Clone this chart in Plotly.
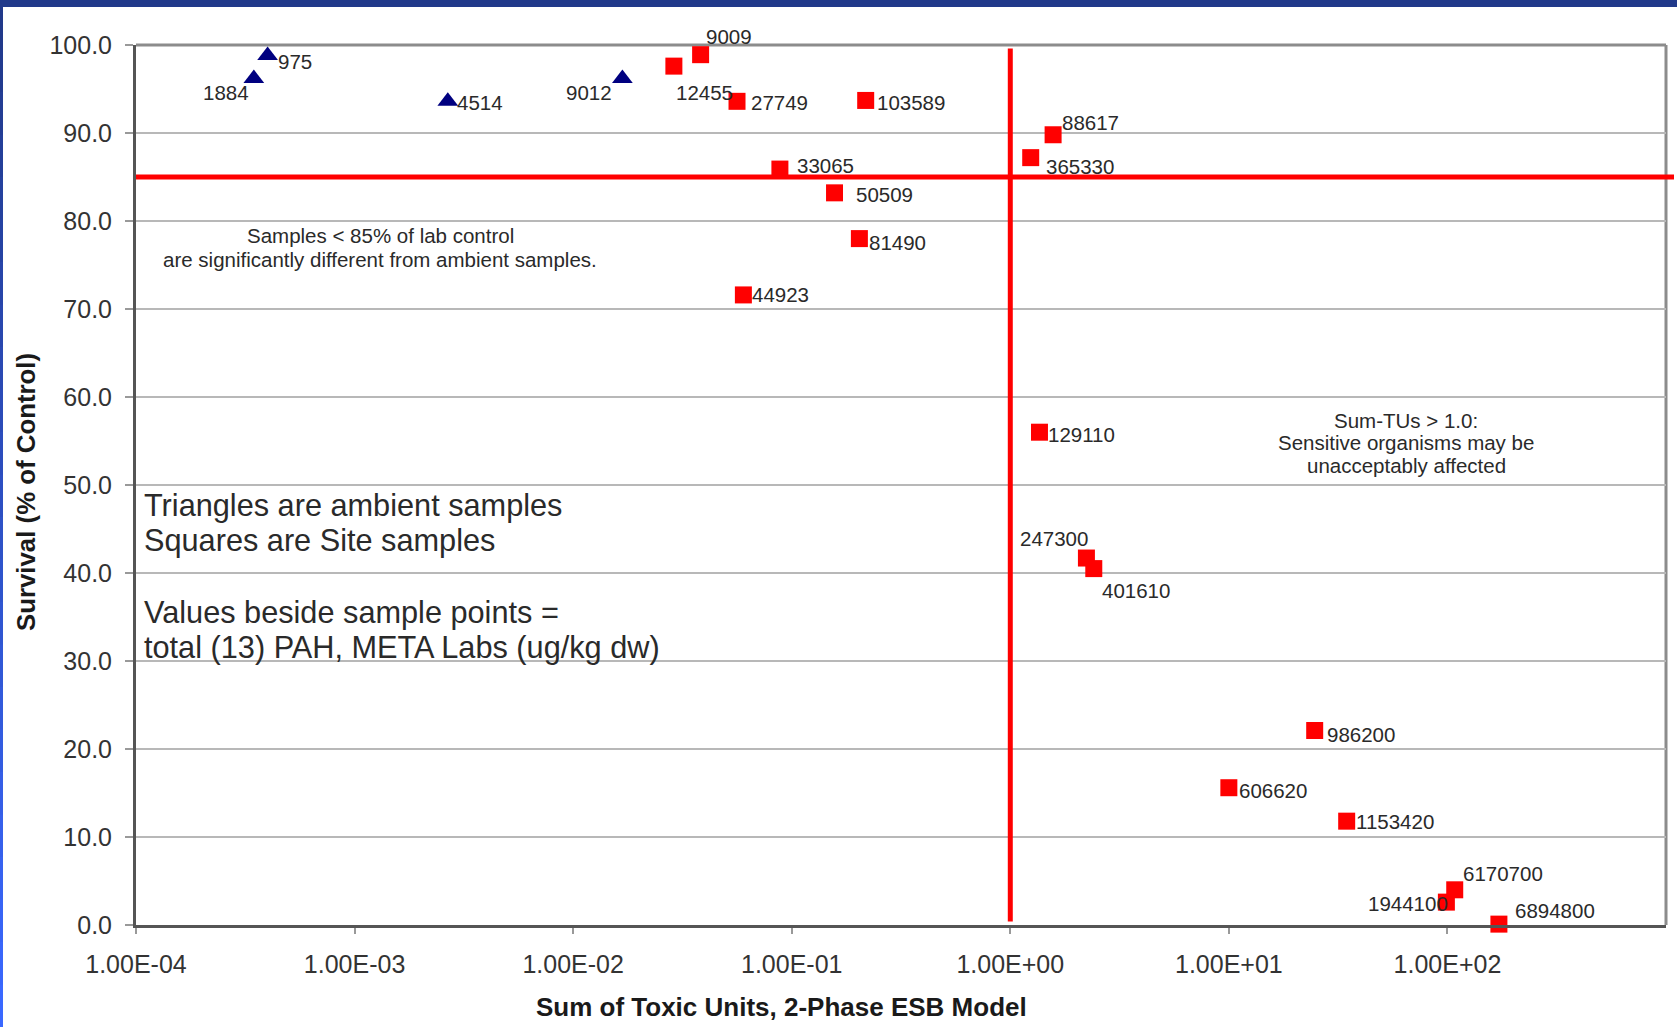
import math
import plotly.graph_objects as go

# Ambient samples (triangles): sum of toxic units, survival (% of control), total PAH label
ambient_tu = [4.0e-4, 3.46e-4, 2.67e-3, 1.68e-2]
ambient_surv = [98.8, 96.2, 93.6, 96.2]
ambient_pah = ["975", "1884", "4514", "9012"]

# Site samples (squares)
site_tu = [0.0289, 0.0383, 0.0562, 0.218, 0.0883, 0.157, 0.204, 0.0601,
           1.57, 1.24, 1.36, 2.23, 2.41, 24.7, 10.0, 34.6, 108.0, 98.9, 172.0]
site_surv = [97.6, 98.9, 93.6, 93.7, 85.9, 83.2, 78.0, 71.6,
             89.8, 87.2, 56.0, 41.7, 40.5, 22.1, 15.6, 11.8, 4.0, 2.6, 0.1]
site_pah = ["12455", "9009", "27749", "103589", "33065", "50509", "81490", "44923",
            "88617", "365330", "129110", "247300", "401610", "986200", "606620",
            "1153420", "6170700", "1944100", "6894800"]

# Thresholds
survival_threshold = 85.0
tu_threshold = 1.0

# Axis ticks
x_tickvals = [1e-4, 1e-3, 1e-2, 1e-1, 1e0, 1e1, 1e2]
x_ticktext = ["1.00E-04", "1.00E-03", "1.00E-02", "1.00E-01", "1.00E+00", "1.00E+01", "1.00E+02"]
y_tickvals = [0, 10, 20, 30, 40, 50, 60, 70, 80, 90, 100]

# Label placement per point: (anchor side, x offset px, y offset px downward)
ambient_label_pos = [("left", 8, 6), ("right", -3, 14), ("left", 7, 1), ("right", -8, 14)]
site_label_pos = [("left", 0, 26), ("left", 3, -18), ("left", 12, 1), ("left", 9, 2),
                  ("left", 15, -4), ("left", 19, 2), ("left", 8, 4), ("left", 7, 0),
                  ("left", 7, -12), ("left", 13, 9), ("left", 7, 2), ("right", 4, -20),
                  ("left", 6, 22), ("left", 10, 4), ("left", 8, 3), ("left", 7, 0),
                  ("left", 6, -16), ("right", 4, 1), ("left", 14, -14)]

FONT = "Liberation Sans, Arial, sans-serif"
TEXT = "#2a2a2a"
W, H = 1677, 1027
L, R, T, B = 136, 11, 45, 102
PW, PH = W - L - R, H - T - B


def px_to_paper_x(px):
    return (px - L) / PW


def px_to_paper_y(py):
    return (H - B - py) / PH


fig = go.Figure()

fig.add_trace(go.Scatter(
    x=site_tu, y=site_surv, mode="markers", cliponaxis=False,
    marker=dict(symbol="square", size=17, color="#ff0000", line=dict(width=0)),
    name="Site samples", showlegend=False,
))
fig.add_trace(go.Scatter(
    x=ambient_tu, y=ambient_surv, mode="markers", cliponaxis=False,
    marker=dict(symbol="triangle-up", size=18, color="#000080", line=dict(width=0)),
    name="Ambient samples", showlegend=False,
))

annotations = []
for xs, ys, labels, pos in [(ambient_tu, ambient_surv, ambient_pah, ambient_label_pos),
                            (site_tu, site_surv, site_pah, site_label_pos)]:
    for xv, yv, lab, (side, dx, dy) in zip(xs, ys, labels, pos):
        # annotations on a log axis take the log10 of the data value
        annotations.append(dict(
            x=math.log10(xv), y=yv, xref="x", yref="y", text=lab, showarrow=False,
            xanchor=side, yanchor="middle", xshift=dx, yshift=-dy,
            font=dict(family=FONT, size=20.5, color=TEXT),
        ))


def note(text, px, py, size, anchor="center", bold=False, angle=0):
    annotations.append(dict(
        x=px_to_paper_x(px), y=px_to_paper_y(py), xref="paper", yref="paper",
        text=f"<b>{text}</b>" if bold else text, showarrow=False,
        xanchor=anchor, yanchor="middle", textangle=angle,
        font=dict(family=FONT, size=size, color=TEXT if not bold else "#1a1a1a"),
    ))


note("Samples &lt; 85% of lab control", 380, 235, 20.5)
note("are significantly different from ambient samples.", 380, 260, 20.5)
note("Triangles are ambient samples", 142, 505, 30.7, anchor="left")
note("Squares are Site samples", 142, 540, 30.7, anchor="left")
note("Values beside sample points =", 142, 612, 30.7, anchor="left")
note("total (13) PAH, META Labs (ug/kg dw)", 142, 647, 30.7, anchor="left")
note("Sum-TUs &gt; 1.0:", 1406, 420, 20.5)
note("Sensitive organisms may be", 1406, 442, 20.5)
note("unacceptably affected", 1406, 465, 20.5)
note("Sum of Toxic Units, 2-Phase ESB Model", 781, 1007, 26, bold=True)
note("Survival (% of Control)", 26, 492, 25.8, bold=True, angle=-90)

shapes = [
    # threshold lines
    dict(type="line", xref="paper", yref="y", x0=0, x1=px_to_paper_x(1674),
         y0=survival_threshold, y1=survival_threshold,
         line=dict(color="#ff0000", width=5), layer="above"),
    dict(type="line", xref="x", yref="y", x0=tu_threshold, x1=tu_threshold,
         y0=0.4, y1=99.6, line=dict(color="#ff0000", width=5), layer="above"),
    # top and right frame
    dict(type="line", xref="paper", yref="paper", x0=0, x1=1, y0=1, y1=1,
         line=dict(color="#8c8c8c", width=3), layer="below"),
    dict(type="line", xref="paper", yref="paper", x0=1, x1=1, y0=0, y1=1,
         line=dict(color="#8c8c8c", width=3), layer="below"),
    # slide border band across the top
    dict(type="rect", xref="paper", yref="paper",
         x0=px_to_paper_x(0), x1=px_to_paper_x(W), y0=px_to_paper_y(7), y1=px_to_paper_y(0),
         fillcolor="#21398a", line=dict(width=0), layer="above"),
]

# slide border strip down the left edge, shading from navy to bright blue
n_seg = 24
c0 = (0x21, 0x39, 0x8a)
c1 = (0x3a, 0x68, 0xff)
for i in range(n_seg):
    t = i / (n_seg - 1)
    col = "#%02x%02x%02x" % tuple(round(a + (b - a) * t) for a, b in zip(c0, c1))
    y_top = 7 + (H - 7) * i / n_seg
    y_bot = 7 + (H - 7) * (i + 1) / n_seg
    shapes.append(dict(type="rect", xref="paper", yref="paper",
                       x0=px_to_paper_x(0), x1=px_to_paper_x(3),
                       y0=px_to_paper_y(y_bot + 0.5), y1=px_to_paper_y(y_top),
                       fillcolor=col, line=dict(width=0), layer="above"))

fig.update_layout(
    width=W, height=H,
    margin=dict(l=L, r=R, t=T, b=B, pad=0),
    paper_bgcolor="white", plot_bgcolor="white",
    font=dict(family=FONT, color=TEXT),
    showlegend=False,
    annotations=annotations,
    shapes=shapes,
    xaxis=dict(
        type="log", range=[-4, 3],
        tickvals=x_tickvals, ticktext=x_ticktext,
        ticks="outside", ticklen=6, tickwidth=1.5, tickcolor="#999999",
        tickfont=dict(family=FONT, size=25, color="#333333"),
        ticklabelstandoff=9,
        showgrid=False, zeroline=False,
        showline=True, linecolor="#555555", linewidth=3,
    ),
    yaxis=dict(
        range=[0, 100],
        tickvals=y_tickvals, tickformat=".1f",
        ticks="outside", ticklen=8, tickwidth=1.5, tickcolor="#999999",
        tickfont=dict(family=FONT, size=25, color="#333333"),
        ticklabelstandoff=8,
        showgrid=True, gridcolor="#b8b8b8", gridwidth=2,
        zeroline=False,
        showline=True, linecolor="#555555", linewidth=3,
    ),
)

fig.write_html("out.html")
